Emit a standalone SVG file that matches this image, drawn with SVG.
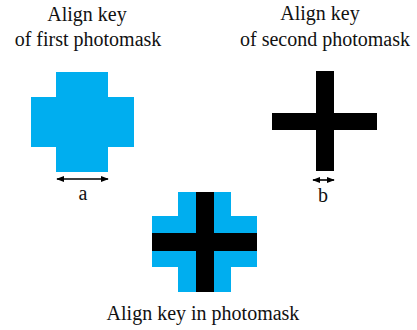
<svg xmlns="http://www.w3.org/2000/svg" width="417" height="330" viewBox="0 0 417 330">
<defs>
<marker id="ah" viewBox="0 0 10 10" refX="9" refY="5" markerWidth="5" markerHeight="5" orient="auto-start-reverse">
<path d="M0,1 L10,5 L0,9 z" fill="#000"/>
</marker>
</defs>
<style>
.t{font-family:'Liberation Serif','DejaVu Serif',serif;font-size:20px;fill:#111;text-anchor:middle}
.blue{fill:#00AEEF}
.black{fill:#000}
.dim{stroke:#000;stroke-width:1.6;fill:none}
</style>
<rect width="417" height="330" fill="#fff"/>
<g id="key1">
<text class="t" font-family="Liberation Serif, serif" x="87" y="21">Align key</text>
<text class="t" font-family="Liberation Serif, serif" x="88" y="46">of first photomask</text>
<rect class="blue" x="56" y="72" width="52" height="100"/>
<rect class="blue" x="31" y="97" width="103" height="50"/>
</g>
<g id="key2">
<text class="t" font-family="Liberation Serif, serif" x="320" y="20">Align key</text>
<text class="t" font-family="Liberation Serif, serif" x="325" y="46">of second photomask</text>
<rect class="black" x="316" y="71" width="18" height="100"/>
<rect class="black" x="272" y="113" width="105" height="17"/>
</g>
<g id="combined">
<rect class="blue" x="178" y="192" width="53" height="100"/>
<rect class="blue" x="152" y="216" width="105" height="51"/>
<rect class="black" x="196" y="192" width="18" height="100"/>
<rect class="black" x="152" y="233" width="105" height="18"/>
<text class="t" font-family="Liberation Serif, serif" x="203" y="320">Align key in photomask</text>
</g>
<g id="connectors">
<line class="dim" x1="57" y1="179" x2="108" y2="179" marker-start="url(#ah)" marker-end="url(#ah)"/>
<line class="dim" x1="313" y1="180" x2="334" y2="180" marker-start="url(#ah)" marker-end="url(#ah)"/>
</g>
<g id="labels">
<text class="t" font-family="Liberation Serif, serif" x="83" y="200">a</text>
<text class="t" font-family="Liberation Serif, serif" x="323" y="202">b</text>
</g>
</svg>
